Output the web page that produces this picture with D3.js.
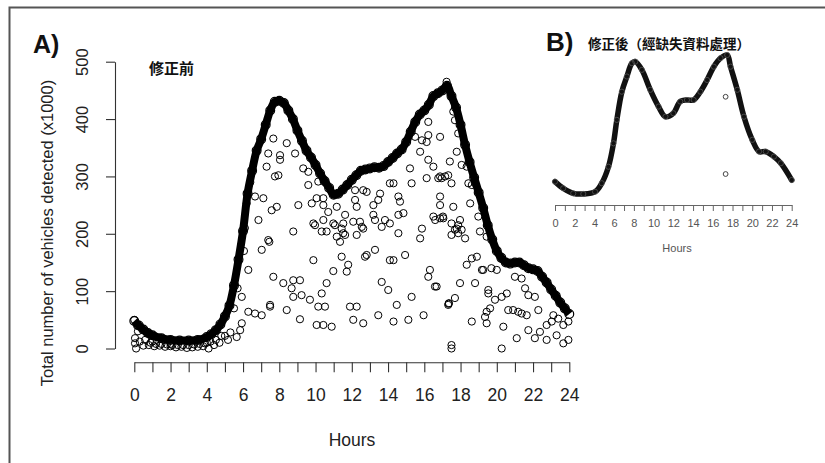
<!DOCTYPE html>
<html>
<head>
<meta charset="utf-8">
<script src="https://cdnjs.cloudflare.com/ajax/libs/d3/7.8.5/d3.min.js"></script>
<style>
  body { margin: 0; background: #fff; }
  text { font-family: "Liberation Sans", Arial, sans-serif; }
</style>
</head>
<body>
<div id="chart"></div>
<script>
// size
var svgWidth = 825;
var svgHeight = 463;

// panel A: main dense profile (hour, vehicles x1000)
var hoursA = [0, 0.25, 0.5, 0.75, 1, 1.5, 2, 2.5, 3, 3.5, 4, 4.25, 4.5, 4.75, 5, 5.25, 5.5, 5.75,
    6, 6.25, 6.5, 6.75, 7, 7.25, 7.5, 7.75, 8, 8.25, 8.5, 8.75, 9, 9.25, 9.5, 9.75, 10, 10.25,
    10.5, 10.75, 11, 11.25, 11.5, 11.75, 12, 12.25, 12.5, 12.75, 13, 13.25, 13.5, 13.75, 14,
    14.25, 14.5, 14.75, 15, 15.25, 15.5, 15.75, 16, 16.25, 16.5, 16.75, 17, 17.25, 17.5, 17.75,
    18, 18.25, 18.5, 18.75, 19, 19.25, 19.5, 19.75, 20, 20.25, 20.5, 20.75, 21, 21.25, 21.5,
    21.75, 22, 22.25, 22.5, 22.75, 23, 23.25, 23.5, 23.75, 24];
var valuesA = [48, 40, 33, 27, 23, 18, 15, 14, 14, 15, 20, 25, 32, 42, 56, 75, 110, 155,
    205, 270, 310, 345, 365, 390, 415, 430, 432, 428, 415, 400, 380, 362, 345, 333, 320, 305,
    292, 280, 268, 270, 277, 285, 294, 302, 310, 312, 314, 316, 315, 318, 325,
    332, 340, 347, 360, 378, 395, 408, 415, 425, 440, 445, 450, 458, 440, 420,
    390, 355, 325, 298, 272, 245, 215, 190, 170, 158, 150, 148, 150, 150, 145,
    140, 138, 135, 125, 115, 103, 92, 80, 70, 60];

// panel A: scattered (missing / partial) readings [hour, value]
var scatterA = [
    [7.39, 340], [7.3, 317], [6.66, 265], [7.12, 262], [6.2, 253], [7.58, 241], [7.76, 300],
    [6.85, 224], [7.39, 189], [7.03, 172], [7.67, 125], [6.29, 137], [5.93, 90], [6.29, 64],
    [6.66, 61], [7.03, 58], [7.49, 76], [5.93, 44], [5.84, 32], [7.45, 186], [7.86, 247],
    [7.95, 302], [7.67, 366], [8.41, 358], [8.04, 337], [8.04, 329], [8.87, 340], [9.32, 314],
    [9.6, 308], [9.6, 285], [10.15, 291], [10.06, 262], [10.43, 262], [9.05, 250], [9.79, 253],
    [10.43, 250], [11.17, 247], [12.18, 276], [12.63, 276], [13.56, 270], [13.46, 259],
    [13.19, 250], [14.1, 288], [14.3, 288], [14.57, 265], [15.3, 288], [15.21, 314],
    [15.77, 343], [15.87, 363], [9.97, 215], [10.34, 204], [10.61, 204], [10.43, 224],
    [10.7, 238], [10.98, 218], [11.17, 195], [11.35, 186], [11.63, 233], [11.53, 201],
    [12.08, 221], [12.27, 198], [12.55, 212], [8.77, 204], [9.88, 218], [11.07, 215],
    [11.44, 209], [11.53, 218], [11.63, 198], [12.45, 221], [12.63, 209], [13.28, 224],
    [13.65, 212], [13.83, 224], [14.1, 218], [14.57, 201], [15.87, 209], [15.77, 192],
    [9.88, 154], [11.44, 160], [11.8, 146], [11.72, 134], [10.98, 135], [12.73, 160],
    [13.28, 172], [14.1, 154], [14.3, 154], [14.94, 163], [8.22, 114], [8.77, 119], [9.14, 119],
    [8.68, 105], [8.77, 90], [9.23, 93], [9.69, 85], [10.61, 114], [10.34, 96], [10.15, 73],
    [10.52, 73], [11.9, 73], [12.27, 73], [8.41, 67], [9.14, 51], [10.06, 41], [10.43, 41],
    [10.89, 38], [12.08, 50], [12.63, 44], [13.65, 116], [14.01, 102], [13.46, 58], [14.48, 76],
    [15.3, 90], [14.3, 47], [15.12, 50], [15.96, 58], [7.49, 73], [13.19, 233], [14.57, 233],
    [14.85, 236], [14.66, 256], [12.82, 273], [12.18, 259], [12.27, 247], [16.22, 395],
    [16.13, 297], [16.5, 317], [16.87, 369], [16.77, 297], [16.96, 297], [16.87, 265],
    [16.87, 250], [17.03, 230], [16.5, 230], [17.5, 218], [17.79, 209], [17.5, 198],
    [17.87, 201], [18.25, 192], [17.6, 247], [17.97, 224], [17.5, 288], [17.32, 302],
    [18.53, 253], [18.98, 230], [18.43, 288], [18.8, 288], [18.34, 317], [17.79, 343],
    [17.69, 398], [15.49, 369], [16.31, 137], [16.22, 125], [16.59, 108], [16.68, 108],
    [17.32, 76], [17.36, 79], [17.34, 78], [17.69, 88], [17.97, 114], [18.62, 157], [18.9, 160],
    [19.18, 137], [18.8, 114], [19.53, 96], [19.63, 70], [19.35, 55], [18.62, 47], [19.9, 85],
    [12.82, 163], [16.22, 372], [16.13, 360], [17.6, 413], [17.87, 375], [16.22, 329],
    [17.41, 326], [16.87, 300], [17.15, 300], [18.06, 320], [18.62, 285], [17.05, 227],
    [16.87, 227], [16.6, 224], [17.69, 207], [18.06, 207], [17.87, 215], [19.07, 204],
    [19.44, 195], [18.34, 146], [19.25, 137], [19.53, 102], [20.27, 90], [20.55, 96],
    [19.44, 64], [19.44, 44], [20.36, 38], [20.63, 67], [20.9, 67], [21.18, 64], [21.37, 61],
    [21.65, 58], [21.56, 105], [21.74, 93], [22.1, 90], [22.29, 67], [21.1, 18], [20.27, 0],
    [17.5, 6], [17.5, 0], [21.74, 32], [22.1, 18], [22.38, 29], [22.75, 41], [23.03, 47],
    [23.12, 58], [23.39, 52], [23.67, 41], [23.95, 47], [22.75, 15], [23.3, 23], [23.67, 9],
    [23.95, 15], [19.7, 140], [20.0, 137], [21.0, 125], [21.37, 122], [17.23, 465],
    [0.04, 18], [0.04, 9], [0.1, 0], [0, 50], [0.5, 5], [0.8, 6], [1.1, 4], [1.4, 5], [1.7, 3],
    [2.0, 4], [2.3, 2], [2.6, 3], [2.9, 1], [3.2, 2], [3.5, 3], [3.8, 4], [4.1, 0], [4.4, 6],
    [4.7, 10], [5.17, 15], [5.65, 20], [5.3, 28], [5.0, 22], [0.3, 12], [1.0, 12], [2.0, 8],
    [3.0, 6], [4.0, 10], [0.6, 15], [0.9, 10], [1.2, 8], [1.5, 8], [1.8, 7], [2.1, 6],
    [2.4, 6], [2.7, 6], [3.3, 7], [3.6, 8], [3.9, 9], [4.2, 12], [4.5, 15], [4.8, 22],
    [0.2, 30], [0.15, 40], [5.5, 70], [5.7, 105], [6.05, 170], [6.1, 210], [6.4, 290]
];

// panel B: corrected profile
var hoursB = [0, 0.83, 1.85, 2.87, 4.06, 4.74, 5.42, 5.93, 6.27, 6.78, 7.29, 7.8, 8.14, 8.81,
    9.66, 10.5, 11.2, 12, 12.7, 13.38, 14.06, 14.74, 15.42, 16.1, 16.78, 17.46, 17.8, 18.48,
    19.16, 20, 20.69, 21.37, 22.2, 22.9, 24];
var valuesB = [53, 32, 16, 14, 21, 48, 100, 174, 248, 337, 385, 427, 432, 406,
    343, 290, 258, 269, 306, 311, 311, 337, 374, 416, 443, 453, 416, 343,
    258, 185, 148, 148, 132, 111, 58];
var outliersB = [[17.3, 321], [17.3, 77]];

var xTicks = d3.range(0, 25);
var yTicks = [0, 100, 200, 300, 400, 500];

var svg = d3.select("#chart")
    .append("svg")
    .attr("width", svgWidth)
    .attr("height", svgHeight);

svg.append("rect")
    .attr("width", svgWidth)
    .attr("height", svgHeight)
    .attr("fill", "#fff");

// outer frame
svg.append("path")
    .attr("d", "M9.5,463V7.5H825")
    .attr("fill", "none")
    .attr("stroke", "#555")
    .attr("stroke-width", 2);

// ---------- panel A ----------
var xA = d3.scaleLinear().domain([0, 24]).range([134.3, 569.3]);
var yA = d3.scaleLinear().domain([0, 500]).range([348.5, 61.7]);

var xAxisA = svg.append("g")
    .attr("transform", "translate(0,362.3)")
    .call(d3.axisBottom(xA)
        .tickValues(xTicks)
        .tickSize(10)
        .tickSizeOuter(0)
        .tickPadding(16)
        .tickFormat(d => d % 2 === 0 ? d : ""));

var yAxisA = svg.append("g")
    .attr("transform", "translate(115,0)")
    .call(d3.axisLeft(yA)
        .tickValues(yTicks)
        .tickSize(9)
        .tickSizeOuter(0));

yAxisA.selectAll("text")
    .attr("x", 0)
    .attr("y", -27)
    .attr("dy", 0)
    .attr("transform", "rotate(-90)")
    .attr("text-anchor", "middle");

[xAxisA, yAxisA].forEach(function(ax) {
    ax.selectAll("path, line").attr("stroke", "#333").attr("stroke-width", 1.1);
    ax.selectAll("text").attr("fill", "#222").style("font-size", "17.5px");
});
yAxisA.selectAll("text").style("font-size", "16.5px");

svg.append("text")
    .attr("transform", "translate(53,233) rotate(-90)")
    .attr("text-anchor", "middle")
    .attr("fill", "#222")
    .style("font-size", "16.5px")
    .text("Total number of vehicles detected (x1000)");

svg.append("text")
    .attr("x", 352)
    .attr("y", 446)
    .attr("text-anchor", "middle")
    .attr("fill", "#222")
    .style("font-size", "17.5px")
    .text("Hours");

svg.append("text")
    .attr("x", 33)
    .attr("y", 53)
    .attr("font-weight", "bold")
    .attr("fill", "#111")
    .style("font-size", "25px")
    .text("A)");

svg.append("text")
    .attr("x", 149)
    .attr("y", 74)
    .attr("font-weight", "bold")
    .attr("fill", "#111")
    .style("font-family", "'Noto Sans CJK TC', sans-serif")
    .style("font-size", "15px")
    .text("修正前");

var lineA = d3.line()
    .x((d, i) => xA(hoursA[i]))
    .y(d => yA(d))
    .curve(d3.curveCatmullRom);

var plotA = svg.append("g");

plotA.selectAll(".scatterA")
    .data(scatterA)
    .enter()
    .append("circle")
    .attr("class", "scatterA")
    .attr("cx", d => xA(d[0]))
    .attr("cy", d => yA(d[1]))
    .attr("r", 3.6)
    .attr("fill", "none")
    .attr("stroke", "#000")
    .attr("stroke-width", 1);

plotA.append("path")
    .datum(valuesA)
    .attr("d", lineA)
    .attr("fill", "none")
    .attr("stroke", "#000")
    .attr("stroke-width", 8)
    .attr("stroke-linejoin", "round");

plotA.selectAll(".mainA")
    .data(valuesA)
    .enter()
    .append("circle")
    .attr("class", "mainA")
    .attr("cx", (d, i) => xA(hoursA[i]))
    .attr("cy", d => yA(d))
    .attr("r", 4.4)
    .attr("fill", "none")
    .attr("stroke", "#000")
    .attr("stroke-width", 1.2);

// ---------- panel B ----------
var xB = d3.scaleLinear().domain([0, 24]).range([555, 791.7]);
var yB = d3.scaleLinear().domain([0, 500]).range([198.4, 40.1]);

var xAxisB = svg.append("g")
    .attr("transform", "translate(0,205)")
    .call(d3.axisBottom(xB)
        .tickValues(xTicks)
        .tickSize(6)
        .tickSizeOuter(0)
        .tickPadding(8)
        .tickFormat(d => d % 2 === 0 ? d : ""));

xAxisB.selectAll("path, line").attr("stroke", "#666").attr("stroke-width", 1);
xAxisB.selectAll("text").attr("fill", "#555").style("font-size", "11px");

svg.append("text")
    .attr("x", 677)
    .attr("y", 252)
    .attr("text-anchor", "middle")
    .attr("fill", "#555")
    .style("font-size", "11px")
    .text("Hours");

svg.append("text")
    .attr("x", 546)
    .attr("y", 51)
    .attr("font-weight", "bold")
    .attr("fill", "#111")
    .style("font-size", "26px")
    .text("B)");

svg.append("text")
    .attr("x", 588)
    .attr("y", 49)
    .attr("font-weight", "bold")
    .attr("fill", "#111")
    .style("font-family", "'Noto Sans CJK TC', sans-serif")
    .style("font-size", "13.5px")
    .text("修正後（經缺失資料處理）");

var lineB = d3.line()
    .x((d, i) => xB(hoursB[i]))
    .y(d => yB(d))
    .curve(d3.curveCatmullRom);

svg.append("path")
    .datum(valuesB)
    .attr("d", lineB)
    .attr("fill", "none")
    .attr("stroke", "#111")
    .attr("stroke-width", 5.5)
    .attr("stroke-linejoin", "round")
    .attr("stroke-linecap", "round");

svg.selectAll(".mainB")
    .data(valuesB)
    .enter()
    .append("circle")
    .attr("class", "mainB")
    .attr("cx", (d, i) => xB(hoursB[i]))
    .attr("cy", d => yB(d))
    .attr("r", 2.6)
    .attr("fill", "none")
    .attr("stroke", "#555")
    .attr("stroke-width", 0.8);

svg.selectAll(".outB")
    .data(outliersB)
    .enter()
    .append("circle")
    .attr("class", "outB")
    .attr("cx", d => xB(d[0]))
    .attr("cy", d => yB(d[1]))
    .attr("r", 2.4)
    .attr("fill", "none")
    .attr("stroke", "#444")
    .attr("stroke-width", 1);
</script>
</body>
</html>
